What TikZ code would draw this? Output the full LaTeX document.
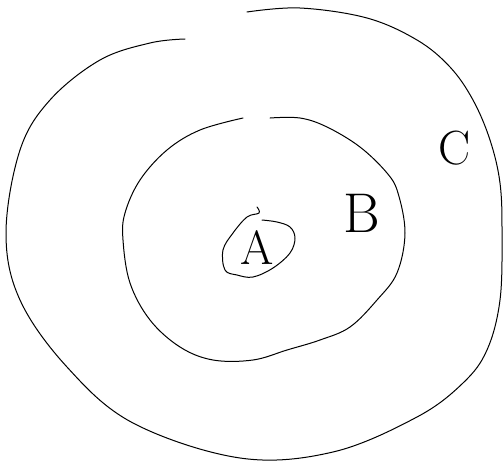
\documentclass[tikz,border=0pt]{standalone}
\usepackage{tikz}

\tikzset{
  setline/.style={line width=1pt, line cap=round, line join=round},
  setlabel/.style={font=\fontsize{48}{48}\selectfont, inner sep=0pt}
}

\begin{document}
\begin{tikzpicture}[x=1pt, y=-1pt]
  \useasboundingbox (0,0) rectangle (504,461);

  % Outer set C (open at the top)
  \draw[setline] plot[smooth, tension=0.6] coordinates {
    (185,39) (150,43) (100,60) (50,100) (20,150) (6,233) (20,300)
    (67,367) (133,423) (240,458) (333,452) (417,417) (463,383)
    (487,350) (500,300) (502,233) (500,183) (490,140) (473,100)
    (450,67) (417,40) (367,18) (300,8) (247,12)};

  % Middle set B (open at the top)
  \draw[setline] plot[smooth, tension=0.6] coordinates {
    (243,118) (200,130) (167,150) (140,180) (125,213) (123,240)
    (130,283) (150,320) (180,347) (213,360) (253,360) (287,350)
    (320,340) (350,327) (377,300) (397,273) (405,233) (398,193)
    (387,173) (360,147) (327,127) (300,118) (270,118)};

  % Inner set A
  \draw[setline] plot[smooth, tension=0.6] coordinates {
    (257,207) (259,213) (247,217) (233,233) (223,250) (225,270)
    (237,275) (253,277) (273,268) (290,253) (295,238) (290,227)
    (277,222) (262,220)};

  % Labels
  \node[setlabel] (labA) at (257,248) {A};
  \node[setlabel, font=\fontsize{56}{56}\selectfont] (labB) at (362,213) {B};
  \node[setlabel] (labC) at (455,148) {C};
\end{tikzpicture}
\end{document}
